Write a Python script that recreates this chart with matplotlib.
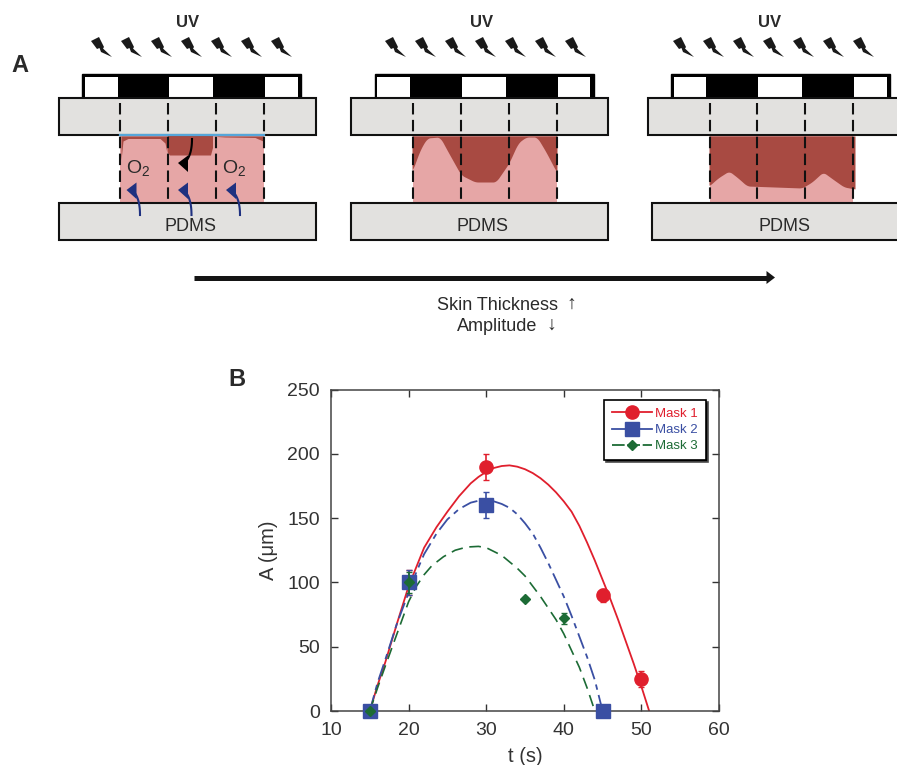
import numpy as np
import matplotlib
matplotlib.use('Agg')
import matplotlib.pyplot as plt
from matplotlib.lines import Line2D
from matplotlib.patches import Polygon, Rectangle

plt.rcParams['font.family'] = ['Liberation Sans', 'DejaVu Sans']
plt.rcParams['mathtext.fontset'] = 'custom'
plt.rcParams['mathtext.rm'] = 'Liberation Sans'

W, H = 897, 765

# measured points
t_mask1 = [15, 20, 30, 45, 50]
a_mask1 = [0, 100, 190, 90, 25]
err_mask1 = [0, 10, 10, 5, 6]
t_mask2 = [15, 20, 30, 45]
a_mask2 = [0, 100, 160, 0]
err_mask2 = [0, 10, 10, 0]
t_mask3 = [15, 20, 35, 40]
a_mask3 = [0, 100, 87, 72]
err_mask3 = [0, 8, 0, 4]

# fit curves
fit1_t = [15, 16, 17, 18.5, 20, 21, 22, 23.6, 25, 26.5, 28, 29, 30, 31, 32, 33, 34, 35, 36, 37, 38,
          39, 40, 41, 42, 43, 44, 45, 46, 47, 48, 49, 50, 51]
fit1_a = [0, 20, 38, 68, 97, 112, 127, 143, 155, 167, 177, 182, 186, 189, 190.5, 191, 190, 188, 185, 181, 176,
          170, 163, 155, 144, 131, 117, 102, 87, 71, 54, 37, 19, 0]
fit2_t = [15, 16, 17, 18.5, 20, 21, 22, 23.6, 25, 26.5, 28, 30, 32, 33, 34, 35, 36, 37, 38,
          39, 40, 41, 42, 43, 44, 44.5, 45]
fit2_a = [0, 22, 40, 68, 92, 108, 122, 138, 149, 157, 162, 165, 161, 158, 153, 146, 138, 127, 115,
          102, 89, 74, 58, 42, 24, 12, 0]
fit3_t = [15, 16, 17, 18.5, 20, 21, 22, 23, 24.5, 26, 27.5, 29, 30, 31, 32, 33, 34, 35, 36, 37, 38,
          39, 40, 41, 42, 43, 44]
fit3_a = [0, 18, 35, 60, 85, 97, 106, 113, 120, 125, 127.5, 128, 127, 124, 121, 116, 111, 105, 97, 89, 80,
          71, 60, 47, 34, 18, 0]

# interface between cured and uncured resin in the schematics (pixels)
skin2_x = [412, 420, 427, 440, 447, 461, 475, 496, 509, 518, 526, 537, 546, 557]
skin2_y = [172, 150, 138, 137, 150, 175, 182, 182, 163, 143, 137, 137, 152, 173]
skin3_x = [709, 718, 729, 738, 747, 802, 812, 823, 834, 844, 855]
skin3_y = [186, 178, 171, 178, 186, 188, 182, 172, 180, 187, 189]

RED = '#E01F2D'
BLUE = '#3A4FA3'
GREEN = '#1C6B35'
GLASS = '#E2E1DF'
LIGHT = '#E6A6A6'
DARK = '#A84A42'
TEXT = '#2a2a2a'

fig = plt.figure(figsize=(W / 100, H / 100), dpi=100)

# overlay in pixel coordinates for the schematic
bg = fig.add_axes([0, 0, 1, 1])
bg.set_xlim(0, W)
bg.set_ylim(H, 0)
bg.axis('off')

BOLT = np.array([[0, 4], [8, 0], [13, 10], [12, 11.5], [21, 20], [10, 15], [8.5, 11], [6, 12]])


def smooth(xs, ys):
    grid = np.arange(xs[0], xs[-1] + 0.5, 0.5)
    vals = np.interp(grid, xs, ys)
    pad = np.pad(vals, 6, mode='edge')
    return grid, np.convolve(pad, np.ones(13) / 13, mode='valid')


def panel(glass_x, pdms_x, mask_x, windows, dashes, uv_x, bolt_x):
    bg.text(uv_x, 22, 'UV', ha='center', va='center', fontsize=12, fontweight='bold', color=TEXT)
    for i in range(7):
        bg.add_patch(Polygon(BOLT + [bolt_x + i * 30, 37], closed=True, color='#1a1a1a', lw=0))
    # mask
    bg.add_patch(Rectangle((mask_x[0], 73.5), mask_x[1] - mask_x[0], 25, fc='black', ec='black', lw=1))
    for x0, x1 in windows:
        bg.add_patch(Rectangle((x0, 76.5), x1 - x0, 20.5, fc='white', ec='none'))
    # glass and PDMS
    bg.add_patch(Rectangle((glass_x, 98), 257, 37, fc=GLASS, ec='#111111', lw=1.5, zorder=2))
    bg.add_patch(Rectangle((pdms_x, 203), 257, 37, fc=GLASS, ec='#111111', lw=1.5, zorder=2))
    bg.text(pdms_x + 132, 226, 'PDMS', ha='center', va='center', fontsize=13, color=TEXT, zorder=3)
    # resin
    bg.add_patch(Rectangle((dashes[0], 135.5), dashes[-1] - dashes[0], 67, fc=LIGHT, ec='none', zorder=1))


def dashes_on_top(dashes):
    for x in dashes:
        bg.plot([x, x], [103, 203], color='#111111', lw=1.5, dashes=(5.5, 2.6), zorder=4)


def curl(tip_x, tip_y, tail_x, tail_y, col):
    # head points left, the stem curves away from its back edge
    bg.add_patch(Polygon([[tip_x, tip_y], [tip_x + 10, tip_y - 7.5], [tip_x + 10, tip_y + 9]],
                         closed=True, fc=col, ec='none', zorder=6))
    s = np.linspace(0, 1, 30)
    x0, y0 = tip_x + 9, tip_y + (4 if tail_y > tip_y else -3)
    cx, cy = tail_x, y0 + (tail_y - y0) * 0.35
    bx = (1 - s) ** 2 * x0 + 2 * s * (1 - s) * cx + s ** 2 * tail_x
    by = (1 - s) ** 2 * y0 + 2 * s * (1 - s) * cy + s ** 2 * tail_y
    bg.plot(bx, by, color=col, lw=1.5, zorder=6)


# first panel
d1 = [120, 168, 216, 264]
panel(59, 59, (82, 301), [(85, 118), (169, 213), (265, 298)], d1, 188, 91)
bg.add_patch(Polygon([[168, 136], [213, 136], [213, 148], [211, 155.5], [170, 155.5], [168, 153]],
                     closed=True, fc=DARK, ec='none', zorder=1.5))
bg.fill_between([121, 123, 128, 160, 165, 167], [136] * 6, [160, 141, 138.5, 138.5, 143, 153],
                color=DARK, lw=0, zorder=1.5)
bg.fill_between([217, 225, 255, 263], [136] * 4, [136.5, 137, 137.5, 141], color=DARK, lw=0, zorder=1.5)
bg.plot([120, 264], [134.8, 134.8], color='#56A6DA', lw=1.6, zorder=3)
dashes_on_top(d1)
bg.text(138, 168, r'$\mathrm{O_2}$', ha='center', va='center', fontsize=14, color=TEXT, zorder=5)
bg.text(234, 168, r'$\mathrm{O_2}$', ha='center', va='center', fontsize=14, color=TEXT, zorder=5)
curl(178, 163, 192, 139, 'black')
curl(126.5, 190, 140, 215, '#1F3180')
curl(178, 190, 191.5, 215, '#1F3180')
curl(226, 190, 240, 215, '#1F3180')

# second panel
d2 = [412.5, 461, 509, 557]
panel(351, 351, (375, 594), [(377, 410), (462, 506), (558, 590)], d2, 482, 385)
xs, ys = smooth(skin2_x, skin2_y)
bg.fill_between(xs, 136, ys, color=DARK, lw=0, zorder=1.5)
dashes_on_top(d2)

# third panel
d3 = [709.5, 757, 805, 853]
panel(648, 652, (671, 890), [(674, 706), (758, 802), (854, 887)], d3, 770, 673)
xs, ys = smooth(skin3_x, skin3_y)
bg.fill_between(xs, 136, ys, color=DARK, lw=0, zorder=1.5)
dashes_on_top(d3)

# long arrow and captions
bg.plot([194, 768], [277.5, 277.5], color='#151515', lw=3.6, solid_capstyle='butt')
bg.add_patch(Polygon([[766.5, 271], [775, 277.5], [766.5, 284]], closed=True, fc='#151515', ec='none'))
bg.text(437, 305, 'Skin Thickness', ha='left', va='center', fontsize=13, color=TEXT)
bg.text(571, 304, '\u2191', ha='center', va='center', fontsize=14, color=TEXT)
bg.text(457, 326, 'Amplitude', ha='left', va='center', fontsize=13, color=TEXT)
bg.text(551, 325, '\u2193', ha='center', va='center', fontsize=14, color=TEXT)
bg.text(20, 65, 'A', ha='center', va='center', fontsize=17, fontweight='bold', color=TEXT)
bg.text(237, 379, 'B', ha='center', va='center', fontsize=17, fontweight='bold', color=TEXT)

# graph
ax = fig.add_axes([331 / W, 1 - 711 / H, (719 - 331) / W, (711 - 389.5) / H])
ax.set_xlim(10, 60)
ax.set_ylim(0, 250)
ax.patch.set_alpha(0)

ax.plot(fit1_t, fit1_a, color=RED, lw=1.3, zorder=2)
ax.plot(fit2_t, fit2_a, color=BLUE, lw=1.3, dashes=(9, 3, 3, 3), zorder=2)
ax.plot(fit3_t, fit3_a, color=GREEN, lw=1.2, dashes=(7, 4), zorder=2)

ax.errorbar(t_mask1, a_mask1, yerr=err_mask1, fmt='o', ms=9.5, color=RED, capsize=2.5, lw=1.2, clip_on=False, zorder=3)
ax.errorbar(t_mask2, a_mask2, yerr=err_mask2, fmt='s', ms=9.5, color=BLUE, capsize=2.5, lw=1.2, clip_on=False, zorder=4)
ax.errorbar(t_mask3, a_mask3, yerr=err_mask3, fmt='D', ms=5.2, color=GREEN, capsize=2, lw=1.2, clip_on=False, zorder=5)

ax.set_xticks([10, 20, 30, 40, 50, 60])
ax.set_yticks([0, 50, 100, 150, 200, 250])
ax.tick_params(direction='in', top=True, right=True, length=5, width=1, labelsize=14, colors='#333333', pad=8)
for s in ax.spines.values():
    s.set_color('#444444')
    s.set_linewidth(1.1)
ax.set_xlabel('t (s)', fontsize=14.5, color='#333333', labelpad=6)
ax.set_ylabel('A (\u03bcm)', fontsize=14.5, color='#333333', labelpad=7)

handles = [
    Line2D([], [], color=RED, lw=1.3, marker='o', ms=9.5, label='Mask 1'),
    Line2D([], [], color=BLUE, lw=1.3, marker='s', ms=9.5, label='Mask 2'),
    Line2D([], [], color=GREEN, lw=1.3, marker='D', ms=5.2, dashes=(7, 1.5), label='Mask 3'),
]
leg = ax.legend(handles=handles, loc='upper right', bbox_to_anchor=(0.966, 0.968), fontsize=9.5,
                fancybox=False, edgecolor='black', framealpha=1, labelcolor='linecolor',
                shadow={'ox': 1.5, 'oy': -1.5, 'fc': 'black', 'alpha': 1},
                labelspacing=0.3, handlelength=3.0, handletextpad=0.25, borderpad=0.6, borderaxespad=0)
leg.get_frame().set_linewidth(1.2)

fig.savefig('out.png', dpi=100)
